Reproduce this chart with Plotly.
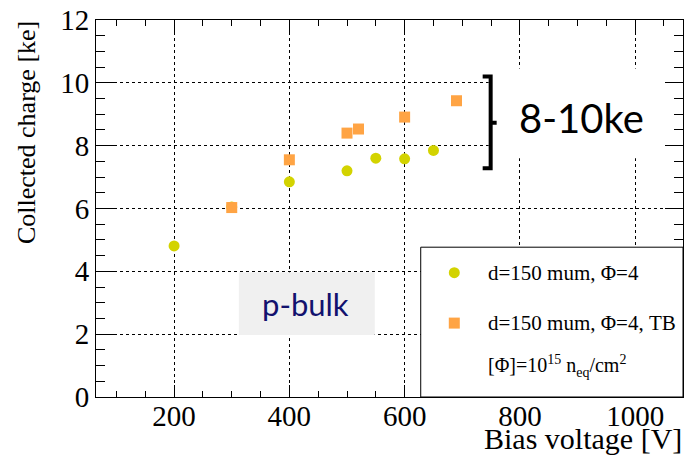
import plotly.graph_objects as go

# ---------------- data ----------------
bias_circle = [200, 300, 400, 500, 550, 600, 650]
charge_circle = [4.81, 6.05, 6.85, 7.20, 7.60, 7.58, 7.85]

bias_square = [300, 400, 500, 520, 600, 690]
charge_square = [6.03, 7.55, 8.40, 8.53, 8.91, 9.43]

legend_labels = ["d=150 mum, \u03a6=4", "d=150 mum, \u03a6=4, TB"]
legend_note = "[\u03a6]=10<sup>15</sup> n<sub>eq</sub>/cm<sup>2</sup>"
x_title = "Bias voltage [V]"
y_title = "Collected charge [ke]"
x_range = [64.5, 1083]
y_range = [0, 12]

COL_CIRCLE = "#d3d300"
COL_SQUARE = "#ffa444"
SERIF = "Liberation Serif"

W, H = 687, 456
L, R, T, B = 96, 683.5, 19.5, 397.0


def px(x):
    return (x - L) / (R - L)


def py(y):
    return (B - y) / (B - T)


fig = go.Figure()
fig.add_trace(go.Scatter(x=bias_circle, y=charge_circle, mode="markers",
                         marker=dict(symbol="circle", size=11, color=COL_CIRCLE),
                         showlegend=False))
fig.add_trace(go.Scatter(x=bias_square, y=charge_square, mode="markers",
                         marker=dict(symbol="square", size=11, color=COL_SQUARE),
                         showlegend=False))

axis_common = dict(
    showline=True, linecolor="black", linewidth=1, mirror="ticks",
    ticks="inside", tickcolor="black", tickwidth=1,
    showgrid=True, gridcolor="black", gridwidth=1, griddash="dot",
    zeroline=False,
    tickfont=dict(family=SERIF, size=29, color="black"),
)

fig.update_xaxes(range=x_range, tick0=0, dtick=200, ticklen=12,
                 ticklabelstandoff=-7,
                 minor=dict(ticks="inside", ticklen=6, dtick=50, tick0=0,
                            tickcolor="black", showgrid=False),
                 **axis_common)
fig.update_yaxes(range=y_range, tick0=0, dtick=2, ticklen=18,
                 minor=dict(ticks="inside", ticklen=9, dtick=0.5, tick0=0,
                            tickcolor="black", showgrid=False),
                 **axis_common)

shapes = []
# white area behind "8-10ke"
shapes.append(dict(type="rect", xref="paper", yref="paper",
                   x0=px(489), x1=px(664), y0=py(158), y1=py(68),
                   fillcolor="white", line=dict(width=0), layer="above"))
# p-bulk gray box
shapes.append(dict(type="rect", xref="paper", yref="paper",
                   x0=px(239), x1=px(375), y0=py(335), y1=py(272),
                   fillcolor="#f0f0f0", line=dict(width=0), layer="above"))
# legend box
shapes.append(dict(type="rect", xref="paper", yref="paper",
                   x0=px(421), x1=px(683.5), y0=py(397), y1=py(247),
                   fillcolor="white", line=dict(color="black", width=1),
                   layer="above"))
# legend markers
shapes.append(dict(type="circle", xref="paper", yref="paper",
                   xsizemode="pixel", ysizemode="pixel",
                   xanchor=px(454.6), yanchor=py(272.5),
                   x0=-5.5, x1=5.5, y0=-5.5, y1=5.5,
                   fillcolor=COL_CIRCLE, line=dict(width=0), layer="above"))
shapes.append(dict(type="rect", xref="paper", yref="paper",
                   xsizemode="pixel", ysizemode="pixel",
                   xanchor=px(454.6), yanchor=py(323),
                   x0=-5.5, x1=5.5, y0=-5.5, y1=5.5,
                   fillcolor=COL_SQUARE, line=dict(width=0), layer="above"))
# curly bracket
path = (f"M {px(483)},{py(76)} L {px(491)},{py(76)} L {px(491)},{py(168)} "
        f"L {px(483)},{py(168)} M {px(491)},{py(122.5)} L {px(497)},{py(122.5)}")
shapes.append(dict(type="path", xref="paper", yref="paper", path=path,
                   line=dict(color="black", width=4), layer="above"))

annotations = [
    dict(text="8-10ke", x=px(582), y=py(118), xref="paper", yref="paper",
         showarrow=False, xanchor="center", yanchor="middle",
         font=dict(family="Lato", size=40, color="black")),
    dict(text="p-bulk", x=px(306), y=py(304), xref="paper", yref="paper",
         showarrow=False, xanchor="center", yanchor="middle",
         font=dict(family="Lato", size=31, color="#12126e")),
    dict(text=legend_labels[0], x=px(486), y=py(272.5), xref="paper", yref="paper",
         showarrow=False, xanchor="left", yanchor="middle",
         font=dict(family=SERIF, size=21, color="black")),
    dict(text=legend_labels[1], x=px(486), y=py(323), xref="paper", yref="paper",
         showarrow=False, xanchor="left", yanchor="middle",
         font=dict(family=SERIF, size=21, color="black")),
    dict(text=legend_note, x=px(486), y=py(366), xref="paper", yref="paper",
         showarrow=False, xanchor="left", yanchor="middle",
         font=dict(family=SERIF, size=20, color="black")),
    dict(text=x_title, x=px(685), y=py(439), xref="paper", yref="paper",
         showarrow=False, xanchor="right", yanchor="middle",
         font=dict(family=SERIF, size=30, color="black")),
    dict(text=y_title, x=px(26), y=py(19), xref="paper", yref="paper",
         showarrow=False, xanchor="center", yanchor="top", textangle=-90,
         font=dict(family=SERIF, size=26, color="black")),
]

fig.update_layout(
    width=W, height=H,
    margin=dict(l=L, r=W - R, t=T, b=H - B, pad=0),
    paper_bgcolor="white", plot_bgcolor="white",
    shapes=shapes, annotations=annotations, showlegend=False,
)

fig.write_html("out.html")
